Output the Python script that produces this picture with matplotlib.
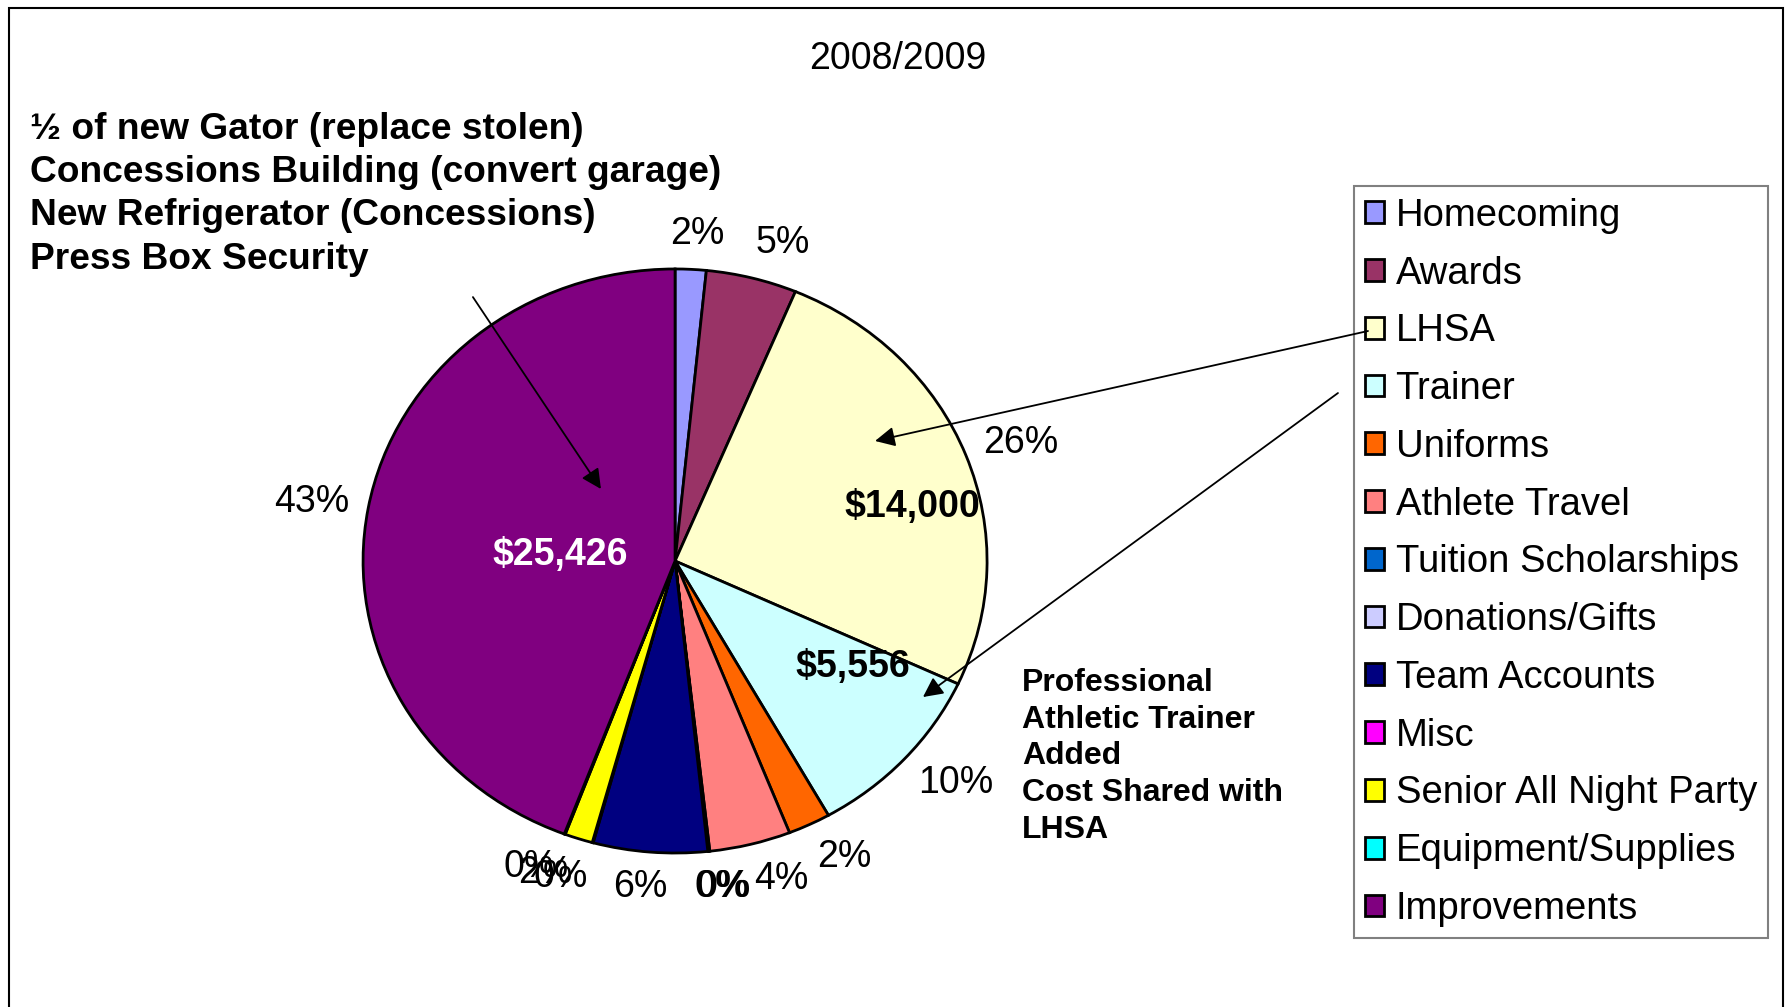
import numpy as np
import matplotlib.pyplot as plt
from matplotlib.patches import Rectangle, FancyArrowPatch

plt.rcParams['font.family'] = ['Liberation Sans', 'DejaVu Sans']

# data (shares of the 2008/2009 budget)
categories = ["Homecoming", "Awards", "LHSA", "Trainer", "Uniforms", "Athlete Travel",
              "Tuition Scholarships", "Donations/Gifts", "Team Accounts", "Misc",
              "Senior All Night Party", "Equipment/Supplies", "Improvements"]
shares = [1.6, 4.7, 25.6, 9.9, 2.2, 4.2, 0.05, 0.05, 5.9, 0.05, 1.45, 0.05, 44.2]
pct_labels = ["2%", "5%", "26%", "10%", "2%", "4%", "0%", "0%", "6%", "0%", "2%", "0%", "43%"]
colors = ["#9999FF", "#993366", "#FFFFCC", "#CCFFFF", "#FF6600", "#FF8080", "#0066CC",
          "#CCCCFF", "#000080", "#FF00FF", "#FFFF00", "#00FFFF", "#800080"]

title = "2008/2009"
improvements_note = ["\u00bd of new Gator (replace stolen)",
                     "Concessions Building (convert garage)",
                     "New Refrigerator (Concessions)",
                     "Press Box Security"]
trainer_note = ["Professional", "Athletic Trainer", "Added", "Cost Shared with", "LHSA"]

fig = plt.figure(figsize=(17.88, 10.07), dpi=100)

# outer chart border
fig.add_artist(Rectangle((0.005, -0.02), 0.992, 1.012, transform=fig.transFigure,
                         fill=False, edgecolor="black", linewidth=1.5))

ax = fig.add_axes([0.1158, 0.0079, 0.5235, 0.870])
wedges, _ = ax.pie(shares, colors=colors, startangle=90, counterclock=False,
                   wedgeprops=dict(edgecolor="black", linewidth=2))
ax.set_aspect("auto")
ax.set_xlim(-1.5, 1.5)
ax.set_ylim(-1.5, 1.5)

# percentage labels placed outside the slices, Excel style (label corner towards the pie)
renderer = fig.canvas.get_renderer()
for w, lab in zip(wedges, pct_labels):
    mid = np.deg2rad((w.theta1 + w.theta2) / 2)
    ux, uy = np.cos(mid), np.sin(mid)
    t = ax.text(1.06 * ux, 1.06 * uy, lab, fontsize=27, ha="center", va="center")
    bb = t.get_window_extent(renderer)
    px, py = ax.transData.transform((1.06 * ux, 1.06 * uy))
    px += np.clip(ux * 4, -1, 1) * bb.width / 2
    py += uy * bb.height * 0.5
    t.set_position(ax.transData.inverted().transform((px, py)))

# value labels
ax.text(0.759, 0.184, "$14,000", fontsize=27, fontweight="bold", ha="center", va="center")
ax.text(0.569, -0.363, "$5,556", fontsize=27, fontweight="bold", ha="center", va="center")
ax.text(-0.369, 0.02, "$25,426", fontsize=27, fontweight="bold", color="white",
        ha="center", va="center")

fig.text(0.502, 0.9416, title, fontsize=27, ha="center", va="center")
fig.text(0.0168, 0.807, "\n".join(improvements_note), fontsize=26.75, fontweight="bold",
         ha="left", va="center", linespacing=1.3)
fig.text(0.5716, 0.249, "\n".join(trainer_note), fontsize=23, fontweight="bold",
         ha="left", va="center", linespacing=1.29)

leg = fig.legend(wedges, categories, loc="upper left", bbox_to_anchor=(0.757, 0.815),
                 fontsize=27.5, frameon=True, fancybox=False, framealpha=1,
                 edgecolor="#808080", handlelength=0.5, handleheight=0.5,
                 handletextpad=0.3, labelspacing=0.57, borderpad=0.3,
                 borderaxespad=0)
leg.get_frame().set_linewidth(1.5)

# arrows drawn above the legend
arrows = [((0.2645, 0.705), (0.3361, 0.5144)),
          ((0.7651, 0.6713), (0.4894, 0.5621)),
          ((0.7483, 0.6097), (0.5162, 0.3078))]
for start, end in arrows:
    fig.add_artist(FancyArrowPatch(start, end, transform=fig.transFigure,
                                   arrowstyle="-|>", color="black", lw=1.3,
                                   mutation_scale=30, shrinkA=0, shrinkB=0, zorder=10))

fig.savefig("out.png", dpi=100)
